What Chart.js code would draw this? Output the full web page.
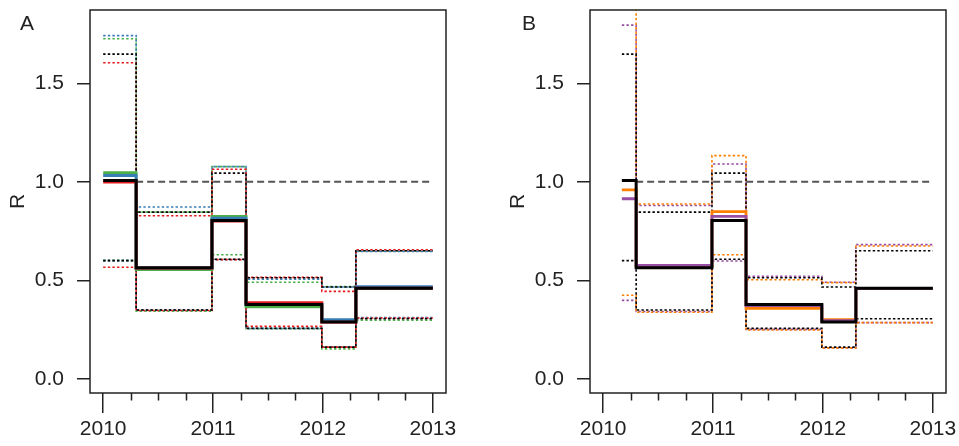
<!DOCTYPE html>
<html>
<head>
<meta charset="utf-8">
<script src="https://cdn.jsdelivr.net/npm/chart.js@4/dist/chart.umd.min.js"></script>
<style>
  html, body { margin: 0; padding: 0; background: #fff; }
  #wrap { position: relative; width: 959px; height: 446px; overflow: hidden; }
  canvas { position: absolute; top: 0; }
  .tag { position: absolute; font: 21px "Liberation Sans", Arial, sans-serif; color: #222; line-height: 21px; }
</style>
</head>
<body>
<div id="wrap">
  <canvas id="panelA" width="480" height="446" style="left:0"></canvas>
  <canvas id="panelB" width="459" height="446" style="left:500px"></canvas>
  <div class="tag" style="left:20px; top:12px">A</div>
  <div class="tag" style="left:522px; top:12px">B</div>
</div>
<script>
// Step boundaries (years); each series holds one value per interval
const yearsA = [2010, 2010.3, 2010.99, 2011.3, 2011.99, 2012.3, 2013];
const yearsB = [2010.17, 2010.3, 2010.99, 2011.3, 2011.99, 2012.3, 2013];

// Reference level R = 1
const refYears = [2010.3, 2013];
const refLevel = 1;

// Pooled estimate (black), shown in both panels
const pooled   = [1.006, 0.564, 0.804, 0.377, 0.288, 0.460];
const pooledLo = [0.600, 0.349, 0.607, 0.256, 0.161, 0.305];
const pooledHi = [1.648, 0.846, 1.044, 0.513, 0.466, 0.650];

// Panel A series
const redR    = [0.998, 0.562, 0.800, 0.387, 0.288, 0.460];
const redLo   = [0.566, 0.347, 0.605, 0.266, 0.161, 0.309];
const redHi   = [1.604, 0.828, 1.064, 0.515, 0.444, 0.655];
const blueR   = [1.032, 0.562, 0.816, 0.377, 0.300, 0.468];
const blueLo  = [0.600, 0.350, 0.605, 0.256, 0.162, 0.311];
const blueHi  = [1.742, 0.872, 1.077, 0.505, 0.466, 0.647];
const greenR  = [1.047, 0.554, 0.824, 0.365, 0.290, 0.460];
const greenLo = [0.601, 0.343, 0.630, 0.254, 0.152, 0.297];
const greenHi = [1.726, 0.846, 1.077, 0.490, 0.468, 0.650];

// Panel B series
const orangeR  = [0.959, 0.570, 0.849, 0.358, 0.300, 0.459];
const orangeLo = [0.424, 0.338, 0.630, 0.248, 0.157, 0.285];
const orangeHi = [2.600, 0.887, 1.133, 0.503, 0.488, 0.674];
const purpleR  = [0.914, 0.576, 0.824, 0.372, 0.295, 0.459];
const purpleLo = [0.398, 0.342, 0.598, 0.251, 0.157, 0.285];
const purpleHi = [1.795, 0.880, 1.090, 0.520, 0.490, 0.681];

// Axis ticks
const yearTicks = [2010, 2011, 2012, 2013];
const quarterTicks = [2010.25, 2010.5, 2010.75, 2011.25, 2011.5, 2011.75, 2012.25, 2012.5, 2012.75];
const rTicks = [0, 0.5, 1, 1.5];

const COLORS = { red: '#E41A1C', blue: '#377EB8', green: '#4DAF4A', orange: '#FF7F00', purple: '#984EA3', black: '#000000' };
const FONT = '"Liberation Sans", Arial, sans-serif';
const INK = '#222';

function steps(years, vals) {
  return years.map((x, i) => ({ x, y: vals[Math.min(i, vals.length - 1)] }));
}
function solid(years, vals, color, width, order) {
  return { data: steps(years, vals), borderColor: color, borderWidth: width, stepped: true, order, clip: 0 };
}
function dotted(years, vals, color, order) {
  return { data: steps(years, vals), borderColor: color, borderWidth: 1.6, borderDash: [2.4, 2.2], stepped: true, order, clip: 0 };
}
function refLine(order) {
  return { data: refYears.map(x => ({ x, y: refLevel })), borderColor: '#555', borderWidth: 1.9, borderDash: [7, 4], order, clip: 0 };
}

// Frame around the plotting region plus quarter-year minor ticks
const frame = {
  id: 'frame',
  afterDraw(chart) {
    const { ctx, chartArea: a, scales: { x } } = chart;
    ctx.save();
    ctx.strokeStyle = INK;
    ctx.lineWidth = 1.5;
    ctx.strokeRect(a.left, a.top, a.right - a.left, a.bottom - a.top);
    ctx.beginPath();
    for (const q of quarterTicks) {
      const px = Math.round(x.getPixelForValue(q)) + 0.5;
      ctx.moveTo(px, a.bottom);
      ctx.lineTo(px, a.bottom + 7.5);
    }
    ctx.stroke();
    ctx.restore();
  }
};

function makeChart(id, datasets, rightPad) {
  return new Chart(document.getElementById(id), {
    type: 'line',
    data: { datasets },
    plugins: [frame],
    options: {
      responsive: false,
      animation: false,
      events: [],
      layout: { padding: { left: 0, top: 10, right: rightPad, bottom: 0 } },
      elements: { point: { radius: 0 }, line: { tension: 0, borderCapStyle: 'butt' } },
      plugins: { legend: { display: false }, tooltip: { enabled: false } },
      scales: {
        x: {
          type: 'linear', min: 2009.88, max: 2013.12,
          afterBuildTicks: s => { s.ticks = yearTicks.map(v => ({ value: v })); },
          afterFit: s => { s.height = 53; s.paddingLeft = 0; s.paddingRight = 0; },
          border: { display: false },
          grid: { drawOnChartArea: false, drawTicks: true, tickLength: 20, color: INK, lineWidth: 1.5 },
          ticks: { callback: v => String(v), padding: 4, color: INK, font: { family: FONT, size: 21 }, maxRotation: 0 }
        },
        y: {
          type: 'linear', min: -0.072, max: 1.872,
          afterBuildTicks: s => { s.ticks = rTicks.map(v => ({ value: v })); },
          afterFit: s => { s.width = 90; s.paddingTop = 0; s.paddingBottom = 0; },
          border: { display: false },
          grid: { drawOnChartArea: false, drawTicks: true, tickLength: 13, color: INK, lineWidth: 1.5 },
          ticks: { callback: v => v.toFixed(1), padding: 13, color: INK, font: { family: FONT, size: 21 } },
          title: { display: true, text: 'R', color: INK, font: { family: FONT, size: 21 }, padding: { top: 6, bottom: 0 } }
        }
      }
    }
  });
}

makeChart('panelA', [
  solid(yearsA, pooled, COLORS.black, 3, 0),
  solid(yearsA, redR, COLORS.red, 2.8, 1),
  solid(yearsA, blueR, COLORS.blue, 2.8, 2),
  solid(yearsA, greenR, COLORS.green, 2.8, 3),
  refLine(4),
  dotted(yearsA, pooledLo, COLORS.black, 5),
  dotted(yearsA, pooledHi, COLORS.black, 6),
  dotted(yearsA, redLo, COLORS.red, 7),
  dotted(yearsA, redHi, COLORS.red, 8),
  dotted(yearsA, blueLo, COLORS.blue, 9),
  dotted(yearsA, blueHi, COLORS.blue, 10),
  dotted(yearsA, greenLo, COLORS.green, 11),
  dotted(yearsA, greenHi, COLORS.green, 12)
], 34);

makeChart('panelB', [
  solid(yearsB, pooled, COLORS.black, 3, 0),
  solid(yearsB, purpleR, COLORS.purple, 2.8, 1),
  solid(yearsB, orangeR, COLORS.orange, 2.8, 2),
  refLine(3),
  dotted(yearsB, pooledLo, COLORS.black, 4),
  dotted(yearsB, pooledHi, COLORS.black, 5),
  dotted(yearsB, orangeLo, COLORS.orange, 6),
  dotted(yearsB, orangeHi, COLORS.orange, 7),
  dotted(yearsB, purpleLo, COLORS.purple, 8),
  dotted(yearsB, purpleHi, COLORS.purple, 9)
], 13);
</script>
</body>
</html>
